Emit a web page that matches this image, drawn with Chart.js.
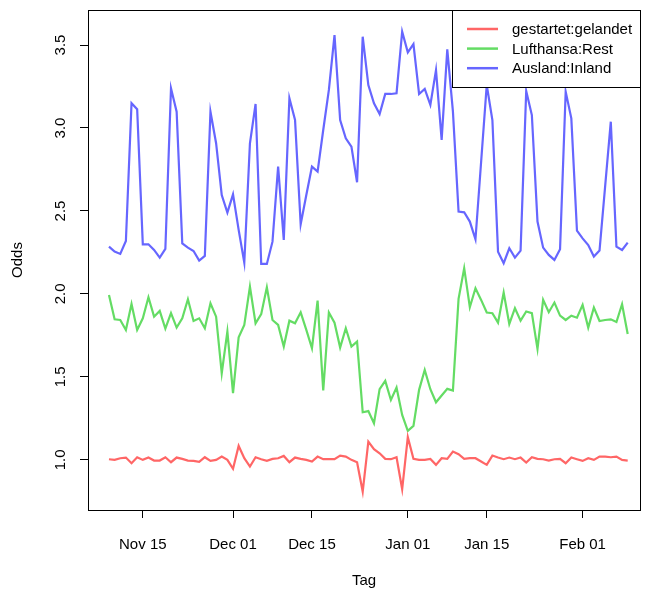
<!DOCTYPE html>
<html>
<head>
<meta charset="utf-8">
<script src="https://cdn.jsdelivr.net/npm/chart.js@4"></script>
<style>body{margin:0;background:#fff}</style>
</head>
<body>
<canvas id="chart" width="646" height="591"></canvas>
<script>
// day 0 = Nov 09, one value per day
var tickDays = [6, 22, 36, 53, 67, 84];
var tickLabels = ["Nov 15", "Dec 01", "Dec 15", "Jan 01", "Jan 15", "Feb 01"];
var yTicks = [1.0, 1.5, 2.0, 2.5, 3.0, 3.5];
var seriesNames = ["gestartet:gelandet", "Lufthansa:Rest", "Ausland:Inland"];

var gestartetGelandet = [1.004, 1.0, 1.010, 1.014, 0.980, 1.016, 1.0, 1.014, 0.996, 0.996,
  1.016, 0.986, 1.014, 1.006, 0.996, 0.994, 0.988, 1.016, 0.994, 1.0,
  1.020, 1.0, 0.946, 1.084, 1.010, 0.960, 1.016, 1.004, 0.994, 1.006,
  1.010, 1.024, 0.986, 1.014, 1.006, 1.0, 0.990, 1.020, 1.004, 1.004,
  1.004, 1.026, 1.020, 1.0, 0.986, 0.809, 1.110, 1.064, 1.040, 1.006,
  1.004, 1.016, 0.823, 1.137, 1.006, 1.0, 1.0, 1.006, 0.970, 1.010,
  1.006, 1.050, 1.034, 1.006, 1.010, 1.010, 0.990, 0.970, 1.026, 1.014,
  1.004, 1.014, 1.004, 1.014, 0.984, 1.016, 1.006, 1.004, 0.996, 1.004,
  1.006, 0.980, 1.014, 1.004, 0.994, 1.010, 1.0, 1.020, 1.020, 1.016,
  1.020, 1.0, 0.996];

var lufthansaRest = [1.994, 1.847, 1.843, 1.783, 1.940, 1.783, 1.853, 1.980, 1.863, 1.898,
  1.791, 1.884, 1.797, 1.853, 1.968, 1.837, 1.853, 1.793, 1.944, 1.863,
  1.522, 1.773, 1.402, 1.739, 1.813, 2.044, 1.823, 1.878, 2.040, 1.843,
  1.813, 1.683, 1.839, 1.823, 1.889, 1.783, 1.673, 1.960, 1.418, 1.888,
  1.827, 1.677, 1.793, 1.683, 1.713, 1.287, 1.294, 1.221, 1.426, 1.476,
  1.361, 1.436, 1.271, 1.175, 1.205, 1.422, 1.542, 1.426, 1.347, 1.388,
  1.428, 1.418, 1.970, 2.155, 1.920, 2.034, 1.964, 1.888, 1.884, 1.827,
  2.008, 1.819, 1.914, 1.839, 1.894, 1.884, 1.669, 1.964, 1.890, 1.948,
  1.869, 1.843, 1.869, 1.857, 1.934, 1.797, 1.918, 1.837, 1.843, 1.847,
  1.831, 1.938, 1.759];

var auslandInland = [2.285, 2.255, 2.241, 2.319, 3.149, 3.113, 2.299, 2.299, 2.265, 2.219,
  2.271, 3.239, 3.098, 2.305, 2.279, 2.259, 2.201, 2.229, 3.098, 2.908,
  2.596, 2.490, 2.600, 2.386, 2.189, 2.908, 3.145, 2.181, 2.181, 2.315,
  2.767, 2.325, 3.179, 3.048, 2.420, 2.596, 2.767, 2.737, 2.988, 3.229,
  3.560, 3.048, 2.938, 2.888, 2.673, 3.550, 3.259, 3.149, 3.084, 3.205,
  3.205, 3.209, 3.580, 3.456, 3.506, 3.205, 3.235, 3.139, 3.349, 2.928,
  3.474, 3.100, 2.496, 2.492, 2.436, 2.329, 2.795, 3.259, 3.048, 2.255,
  2.185, 2.275, 2.219, 2.261, 3.223, 3.078, 2.436, 2.279, 2.235, 2.205,
  2.269, 3.219, 3.058, 2.381, 2.335, 2.295, 2.225, 2.261, 2.650, 3.038,
  2.285, 2.265, 2.309];

var colors = ["rgb(255,102,102)", "rgb(100,220,100)", "rgb(102,102,255)"];

function toPoints(values) {
  return values.map(function(v, i) { return {x: i, y: v}; });
}

var font = {family: "'Liberation Sans', Arial, sans-serif", size: 15};

// R style box around the plot region
var plotBox = {
  id: 'plotBox',
  afterDraw: function(chart) {
    var a = chart.chartArea, ctx = chart.ctx;
    ctx.save();
    ctx.strokeStyle = '#000';
    ctx.lineWidth = 1;
    ctx.strokeRect(Math.round(a.left) + 0.5, Math.round(a.top) + 0.5,
      Math.round(a.right - a.left), Math.round(a.bottom - a.top));
    ctx.restore();
  }
};

// legend in the top right corner, with a frame
var legendBox = {
  id: 'legendBox',
  afterDraw: function(chart) {
    var a = chart.chartArea, ctx = chart.ctx;
    var w = 188, h = 77;
    var x0 = Math.round(a.right) - w, y0 = Math.round(a.top);
    ctx.save();
    ctx.fillStyle = '#fff';
    ctx.fillRect(x0, y0, w, h);
    ctx.strokeStyle = '#000';
    ctx.lineWidth = 1;
    ctx.strokeRect(x0 + 0.5, y0 + 0.5, w, h);
    ctx.font = "15px 'Liberation Sans', Arial, sans-serif";
    ctx.textBaseline = 'middle';
    chart.data.datasets.forEach(function(ds, i) {
      var y = y0 + 19 + i * 19.6;
      ctx.strokeStyle = ds.borderColor;
      ctx.lineWidth = 2.5;
      ctx.beginPath();
      ctx.moveTo(x0 + 15, y);
      ctx.lineTo(x0 + 46, y);
      ctx.stroke();
      ctx.fillStyle = '#000';
      ctx.fillText(ds.label, x0 + 60, y + 1);
    });
    ctx.restore();
  }
};

function noEdgePadding(s) {
  s.paddingTop = 0;
  s.paddingBottom = 0;
  s.paddingLeft = 0;
  s.paddingRight = 0;
}

new Chart('chart', {
  type: 'line',
  data: {
    datasets: [
      {label: seriesNames[0], data: toPoints(gestartetGelandet), borderColor: colors[0]},
      {label: seriesNames[1], data: toPoints(lufthansaRest), borderColor: colors[1]},
      {label: seriesNames[2], data: toPoints(auslandInland), borderColor: colors[2]}
    ]
  },
  options: {
    responsive: false,
    animation: false,
    layout: {padding: {top: 10, right: 6, left: 0, bottom: 0}},
    elements: {
      point: {radius: 0},
      line: {borderWidth: 2.2, tension: 0, fill: false}
    },
    plugins: {legend: {display: false}, tooltip: {enabled: false}},
    scales: {
      x: {
        type: 'linear',
        min: -3.72,
        max: 94.18,
        afterBuildTicks: function(s) { s.ticks = tickDays.map(function(d) { return {value: d}; }); },
        afterFit: function(s) { s.height = 81; noEdgePadding(s); },
        ticks: {
          autoSkip: false, maxRotation: 0, color: '#000', font: font, padding: 18,
          callback: function(v) { return tickLabels[tickDays.indexOf(v)]; }
        },
        grid: {drawOnChartArea: false, drawTicks: true, tickLength: 8, color: '#000'},
        border: {display: false},
        title: {display: true, text: 'Tag', color: '#000', font: font, padding: {top: 0, bottom: 1}}
      },
      y: {
        min: 0.698,
        max: 3.711,
        afterBuildTicks: function(s) { s.ticks = yTicks.map(function(v) { return {value: v}; }); },
        afterFit: function(s) { s.width = 88; noEdgePadding(s); },
        ticks: {
          color: '#000', font: font, padding: 9, minRotation: 90, maxRotation: 90, crossAlign: 'center',
          callback: function(v) { return v.toFixed(1); }
        },
        grid: {drawOnChartArea: false, drawTicks: true, tickLength: 8, color: '#000'},
        border: {display: false},
        title: {display: true, text: 'Odds', color: '#000', font: font, padding: {top: 9, bottom: 0}}
      }
    }
  },
  plugins: [plotBox, legendBox]
});
</script>
</body>
</html>
